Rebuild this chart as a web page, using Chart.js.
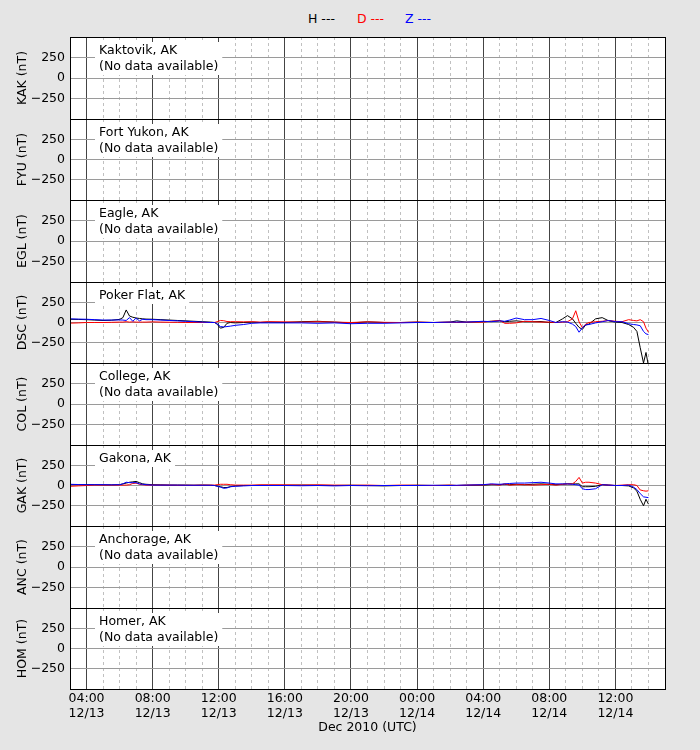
<!DOCTYPE html>
<html>
<head>
<meta charset="utf-8">
<script src="https://cdn.jsdelivr.net/npm/chart.js@4.4.1/dist/chart.umd.min.js"></script>
<style>
html,body{margin:0;padding:0;background:#e5e5e5;}
#wrap{position:relative;width:700px;height:750px;overflow:hidden;background:#e5e5e5;}
#wrap canvas{position:absolute;left:0;}
.leg{position:absolute;top:12px;font-family:"DejaVu Sans",sans-serif;font-size:12.5px;line-height:14px;white-space:pre;}
</style>
</head>
<body>
<div id="wrap">
  <span class="leg" style="left:308px;color:#000000">H ---</span>
  <span class="leg" style="left:357px;color:#ff0000">D ---</span>
  <span class="leg" style="left:405px;color:#0000ff">Z ---</span>
</div>
<script>
// ---- categories ----
const STATION_CODES = ['KAK','FYU','EGL','DSC','COL','GAK','ANC','HOM'];
const STATION_NAMES = ['Kaktovik, AK','Fort Yukon, AK','Eagle, AK','Poker Flat, AK','College, AK','Gakona, AK','Anchorage, AK','Homer, AK'];
const NO_DATA_TEXT = '(No data available)';

// ---- tick labels (x in hours since 03:00 UTC 12/13) ----
const X_TICK_HOURS = [1, 5, 9, 13, 17, 21, 25, 29, 33];
const X_TICK_TIMES = ['04:00','08:00','12:00','16:00','20:00','00:00','04:00','08:00','12:00'];
const X_TICK_DATES = ['12/13','12/13','12/13','12/13','12/13','12/14','12/14','12/14','12/14'];
const X_MINOR_HOURS = [2,3,4,6,7,8,10,11,12,14,15,16,18,19,20,22,23,24,26,27,28,30,31,32,34,35];
const Y_TICKS = [-250, 0, 250];
const X_TITLE = 'Dec 2010 (UTC)';

// ---- sample times (hours since 03:00 UTC 12/13) ----
const TIMES = [
  0, 0.5, 1, 1.5, 2, 2.5, 3,
  3.2, 3.4, 3.6, 3.8, 4,
  4.2, 4.4, 4.6, 5,
  5.5, 6, 6.5, 7, 7.5, 8, 8.5,
  8.75, 8.9, 9.1, 9.3, 9.5, 9.7, 10,
  10.5, 11, 11.5, 12,
  13, 14, 15, 16, 17, 18, 19, 20, 21, 22, 23,
  23.4, 24, 25, 25.5, 26, 26.3, 26.6, 27, 27.5, 28, 28.5, 29,
  29.4, 29.8, 30.1, 30.4, 30.6, 30.8, 31, 31.2, 31.4, 31.8, 32.2, 32.6, 33,
  33.4, 33.8, 34.1, 34.3, 34.5, 34.7, 34.85, 35
];

// ---- Poker Flat (DSC), nT ----
const DSC_H = [
  40, 38, 35, 30, 25, 28, 38,
  60, 155, 80, 65, 55,
  50, 45, 42, 40,
  35, 30, 25, 20, 15, 10, 5,
  0, -20, -70, -60, -10, 0, -5,
  0, 5, 0, 5,
  0, 10, 15, 5, -5, 8, 0, 0, 5, 0, 5,
  20, 5, 10, 15, 20, 10, 15, 20, 10, 10, 12, 0,
  0, 45, 85, 45, -10, -60, -85, -30, -20, 45, 60, 20, 5,
  0, -25, -60, -110, -310, -500, -370, -540
];
const DSC_D = [
  -8, -5, 0, 0, 0, 2, 5,
  5, 10, 5, 8, 5,
  5, 5, 5, 8,
  5, 3, 2, 0, 0, 0, 0,
  0, 10, 25, 22, 12, 10, 10,
  8, 10, 5, 10,
  8, 5, 10, 5, 0, 8, 2, 0, 5, 0, 5,
  0, 5, 5, 15, 25, -10, -10, -5, 15, 10, 5, 5,
  0, 5, 10, 45, 145, 10, -65, -20, 0, 10, 15, 25, 15,
  10, 35, 25, 20, 35, 10, -70, -120
];
const DSC_Z = [
  45, 42, 40, 35, 30, 30, 32,
  30, 25, 60, 15, 55,
  20, 40, 35, 35,
  30, 25, 20, 15, 10, 5, 0,
  0, -15, -50, -55, -50, -45, -35,
  -25, -10, -5, -5,
  -5, -5, -10, -5, -15, -10, -10, -5, 0, 0, 5,
  5, 5, 15, 10, 20, 15, 30, 55, 35, 35, 50, 25,
  0, 10, 5, -20, -50, -120, -65, -30, -25, -5, 10, 25, 10,
  10, -15, -25, -30, -40, -110, -140, -150
];

// ---- Gakona (GAK), nT ----
const GAK_H = [
  10, 10, 10, 10, 8, 8, 10,
  20, 30, 40, 45, 50,
  35, 20, 15, 10,
  8, 5, 5, 5, 3, 5, 3,
  0, -5, -15, -25, -25, -15, -5,
  0, 0, 3, 3,
  3, 5, 3, 0, 3, 0, -5, 0, 3, 0, 3,
  0, 3, 5, 10, 10, 15, 10, 15, 10, 15, 20, 15,
  10, 15, 20, 20, 20, 20, -15, -15, -15, -10, 10, 5, 0,
  0, -5, -30, -70, -170, -250, -170, -230
];
const GAK_D = [
  -10, -5, 0, 5, 5, 5, 5,
  5, 5, 10, 25, 30,
  15, 10, 5, 5,
  5, 5, 3, 3, 3, 5, 5,
  5, 10, 15, 15, 15, 10, 5,
  5, 5, 8, 8,
  8, 5, 8, 5, 3, 5, 0, 5, 3, 0, 5,
  0, 5, 8, 15, 5, 20, 5, 10, 10, 5, 10, 15,
  5, 15, 20, 20, 50, 100, 30, 40, 40, 30, 10, 5, 0,
  5, 10, 10, 0, -55, -65, -70, -65
];
const GAK_Z = [
  15, 12, 10, 10, 10, 8, 10,
  20, 40, 35, 35, 35,
  20, 15, 10, 5,
  5, 5, 5, 3, 3, 3, 3,
  0, -10, -20, -35, -30, -15, -10,
  -5, 0, 0, 0,
  0, -3, 0, -5, 0, -3, 0, 0, 0, 3, 0,
  3, 5, 10, 20, 15, 20, 25, 30, 30, 35, 40, 30,
  20, 20, 20, 15, 10, 5, -40, -50, -50, -40, 10, 5, 0,
  0, 5, -20, -50, -100, -140, -145, -150
];

const STATION_DATA = {
  DSC: { H: DSC_H, D: DSC_D, Z: DSC_Z },
  GAK: { H: GAK_H, D: GAK_D, Z: GAK_Z }
};

// ---- layout/styles ----
const PANEL_TOPS = [37, 119, 200, 282, 363, 445, 526, 608];
const PANEL_BOTTOM = 689;
const FONT = { family: '"DejaVu Sans", sans-serif', size: 12.5 };
const COLORS = { H: '#000000', D: '#ff0000', Z: '#0000ff' };

Chart.defaults.font.family = FONT.family;
Chart.defaults.font.size = FONT.size;
Chart.defaults.color = '#000000';

const panelPlugin = {
  id: 'panel',
  beforeDraw(chart) {
    const { ctx, chartArea: a } = chart;
    ctx.save();
    ctx.fillStyle = '#ffffff';
    ctx.fillRect(a.left, a.top, a.width, a.height);
    ctx.restore();
  },
  beforeDatasetsDraw(chart, args, opts) {
    const { ctx, chartArea: a } = chart;
    const lines = opts.lines || [];
    ctx.save();
    ctx.font = FONT.size + 'px ' + FONT.family;
    let w = 0;
    lines.forEach(t => { w = Math.max(w, ctx.measureText(t).width); });
    const x = a.left + 29;
    const boxH = lines.length > 1 ? 33 : 17;
    ctx.fillStyle = '#ffffff';
    ctx.fillRect(x - 4, a.top + 5, w + 8, boxH);
    ctx.fillStyle = '#000000';
    ctx.textBaseline = 'middle';
    ctx.textAlign = 'left';
    lines.forEach((t, k) => ctx.fillText(t, x, a.top + 14 + k * 16));
    ctx.restore();
  },
  afterDraw(chart) {
    const { ctx, chartArea: a } = chart;
    ctx.save();
    ctx.strokeStyle = '#000000';
    ctx.lineWidth = 1;
    ctx.strokeRect(Math.round(a.left) + 0.5, Math.round(a.top) + 0.5, Math.round(a.width), Math.round(a.height));
    ctx.restore();
  }
};

const wrap = document.getElementById('wrap');

STATION_CODES.forEach((code, i) => {
  const top = PANEL_TOPS[i];
  const bottom = i < PANEL_TOPS.length - 1 ? PANEL_TOPS[i + 1] : PANEL_BOTTOM;
  const last = i === STATION_CODES.length - 1;
  const xAxisH = last ? 50 : 0;
  const padBottom = last ? 11 : 2;
  const ch = last ? (750 - (top - 2)) : (bottom - top + 4);

  const canvas = document.createElement('canvas');
  canvas.width = 700;
  canvas.height = ch;
  canvas.style.width = '700px';
  canvas.style.height = ch + 'px';
  canvas.style.top = (top - 2) + 'px';
  wrap.appendChild(canvas);

  const data = STATION_DATA[code];
  const datasets = [];
  if (data) {
    ['H', 'D', 'Z'].forEach((comp, k) => {
      datasets.push({
        label: comp,
        data: TIMES.map((t, j) => ({ x: t, y: data[comp][j] })),
        borderColor: COLORS[comp],
        backgroundColor: COLORS[comp],
        borderWidth: 1,
        pointRadius: 0,
        tension: 0,
        fill: false,
        order: 2 - k
      });
    });
  }
  const lines = data ? [STATION_NAMES[i]] : [STATION_NAMES[i], NO_DATA_TEXT];

  new Chart(canvas, {
    type: 'line',
    data: { datasets },
    plugins: [panelPlugin],
    options: {
      responsive: false,
      animation: false,
      devicePixelRatio: 1,
      layout: { padding: { left: 0, right: 35, top: 2, bottom: padBottom } },
      plugins: {
        legend: { display: false },
        tooltip: { enabled: false },
        panel: { lines }
      },
      scales: {
        x: {
          type: 'linear', position: 'bottom', min: 0, max: 36,
          afterBuildTicks: s => { s.ticks = X_TICK_HOURS.map(v => ({ value: v })); },
          grid: { color: '#444444', lineWidth: 1, drawTicks: false },
          border: { display: false },
          ticks: {
            display: last, autoSkip: false, maxRotation: 0, minRotation: 0, padding: 3,
            font: { family: FONT.family, size: FONT.size, lineHeight: 1.15 },
            callback: v => {
              const idx = X_TICK_HOURS.indexOf(v);
              return idx < 0 ? '' : [X_TICK_TIMES[idx], X_TICK_DATES[idx]];
            }
          },
          title: { display: last, text: X_TITLE, padding: { top: 4, bottom: 4 }, font: { family: FONT.family, size: FONT.size } },
          afterFit: s => { s.height = xAxisH; s.paddingLeft = 0; s.paddingRight = 0; }
        },
        xm: {
          type: 'linear', position: 'bottom', min: 0, max: 36,
          afterBuildTicks: s => { s.ticks = X_MINOR_HOURS.map(v => ({ value: v })); },
          grid: { color: '#c0c0c0', lineWidth: 1, drawTicks: false },
          border: { display: false, dash: [3, 3] },
          ticks: { display: false },
          afterFit: s => { s.height = 0; s.paddingLeft = 0; s.paddingRight = 0; }
        },
        y: {
          type: 'linear', position: 'left', min: -500, max: 500,
          afterBuildTicks: s => { s.ticks = Y_TICKS.map(v => ({ value: v })); },
          grid: { color: '#9a9a9a', lineWidth: 1, drawTicks: false },
          border: { display: false },
          ticks: {
            padding: 5,
            callback: v => (v < 0 ? '\u2212' + Math.abs(v) : String(v))
          },
          title: { display: true, text: code + ' (nT)', padding: { top: 15, bottom: 4 }, font: { family: FONT.family, size: FONT.size } },
          afterFit: s => { s.width = 70; s.paddingTop = 0; s.paddingBottom = 0; }
        }
      }
    }
  });
});
</script>
</body>
</html>
